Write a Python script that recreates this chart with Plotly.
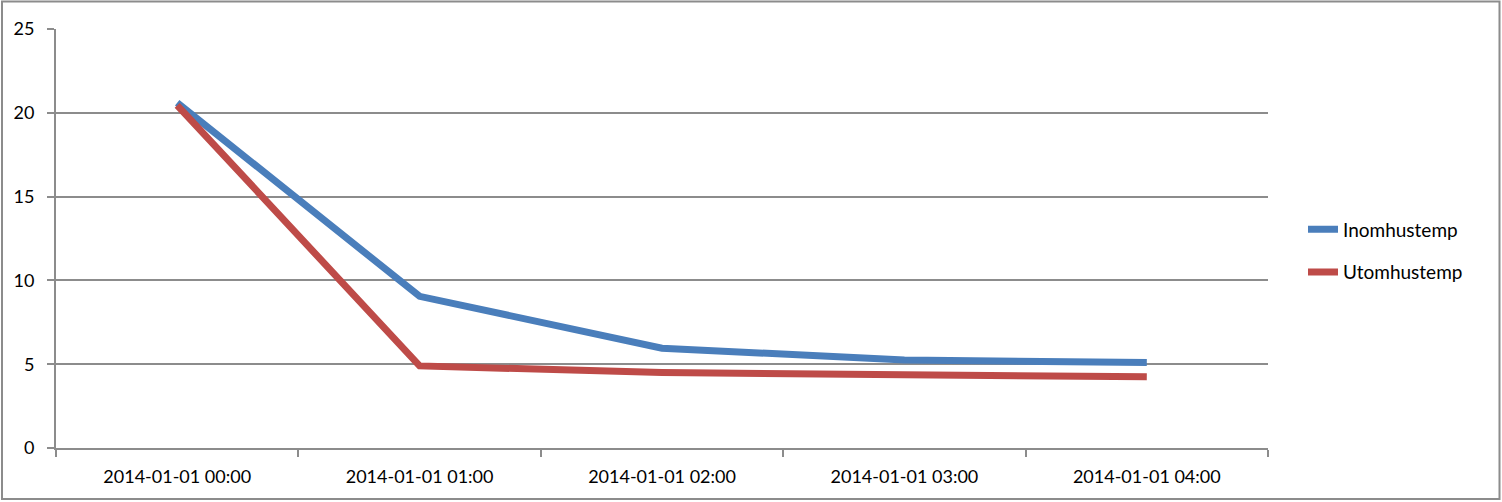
import plotly.graph_objects as go

categories = ["2014-01-01 00:00", "2014-01-01 01:00", "2014-01-01 02:00",
              "2014-01-01 03:00", "2014-01-01 04:00"]
inomhus = [20.6, 9.05, 5.95, 5.25, 5.1]
utomhus = [20.45, 4.9, 4.5, 4.35, 4.25]
y_ticks = [0, 5, 10, 15, 20, 25]

W, H = 1502, 502
L, R, T, B = 56, 1268, 29, 448
pw, ph = R - L, B - T

FONT = "Lato, Open Sans, sans-serif"
GRID = "#8c8c8c"

fig = go.Figure()
fig.add_trace(go.Scatter(x=categories, y=inomhus, mode="lines", name="Inomhustemp",
                         line=dict(color="#4A7EBB", width=7), legendgroup="a"))
fig.add_trace(go.Scatter(x=categories, y=utomhus, mode="lines", name="Utomhustemp",
                         line=dict(color="#BE4B48", width=7), legendgroup="b"))

fig.update_layout(
    width=W, height=H,
    margin=dict(l=L, r=W - R, t=T, b=H - B, pad=0),
    paper_bgcolor="white", plot_bgcolor="white",
    font=dict(family=FONT, size=18, color="black"),
    showlegend=True,
    legend=dict(x=(1303 - L) / pw, y=(B - 251) / ph, xanchor="left", yanchor="middle",
                font=dict(size=19, family=FONT), traceorder="grouped",
                tracegroupgap=15, bgcolor="rgba(0,0,0,0)", itemwidth=30),
    xaxis=dict(type="category", range=[-0.5, 4.5], showgrid=False,
               showline=True, linecolor=GRID, linewidth=2,
               ticks="outside", tickson="boundaries", ticklen=7, tickcolor=GRID, tickwidth=2,
               tickfont=dict(size=18, family=FONT), ticklabelstandoff=11),
    yaxis=dict(range=[0, 25], tickvals=y_ticks, showgrid=True, gridcolor=GRID, gridwidth=1.5,
               showline=True, linecolor=GRID, linewidth=2, zeroline=False,
               ticks="outside", ticklen=7, tickcolor=GRID, tickwidth=2,
               tickfont=dict(size=18, family=FONT), ticklabelstandoff=9),
    shapes=[dict(type="rect", xref="paper", yref="paper",
                 x0=(2 - L) / pw, x1=(1499.5 - L) / pw,
                 y0=(B - 499) / ph, y1=(B - 1.5) / ph,
                 line=dict(color="#8c8c8c", width=2), layer="below")],
)

fig.write_html("out.html", config={"displayModeBar": False},
               post_script="document.body.style.margin='0';document.body.style.padding='0';")
